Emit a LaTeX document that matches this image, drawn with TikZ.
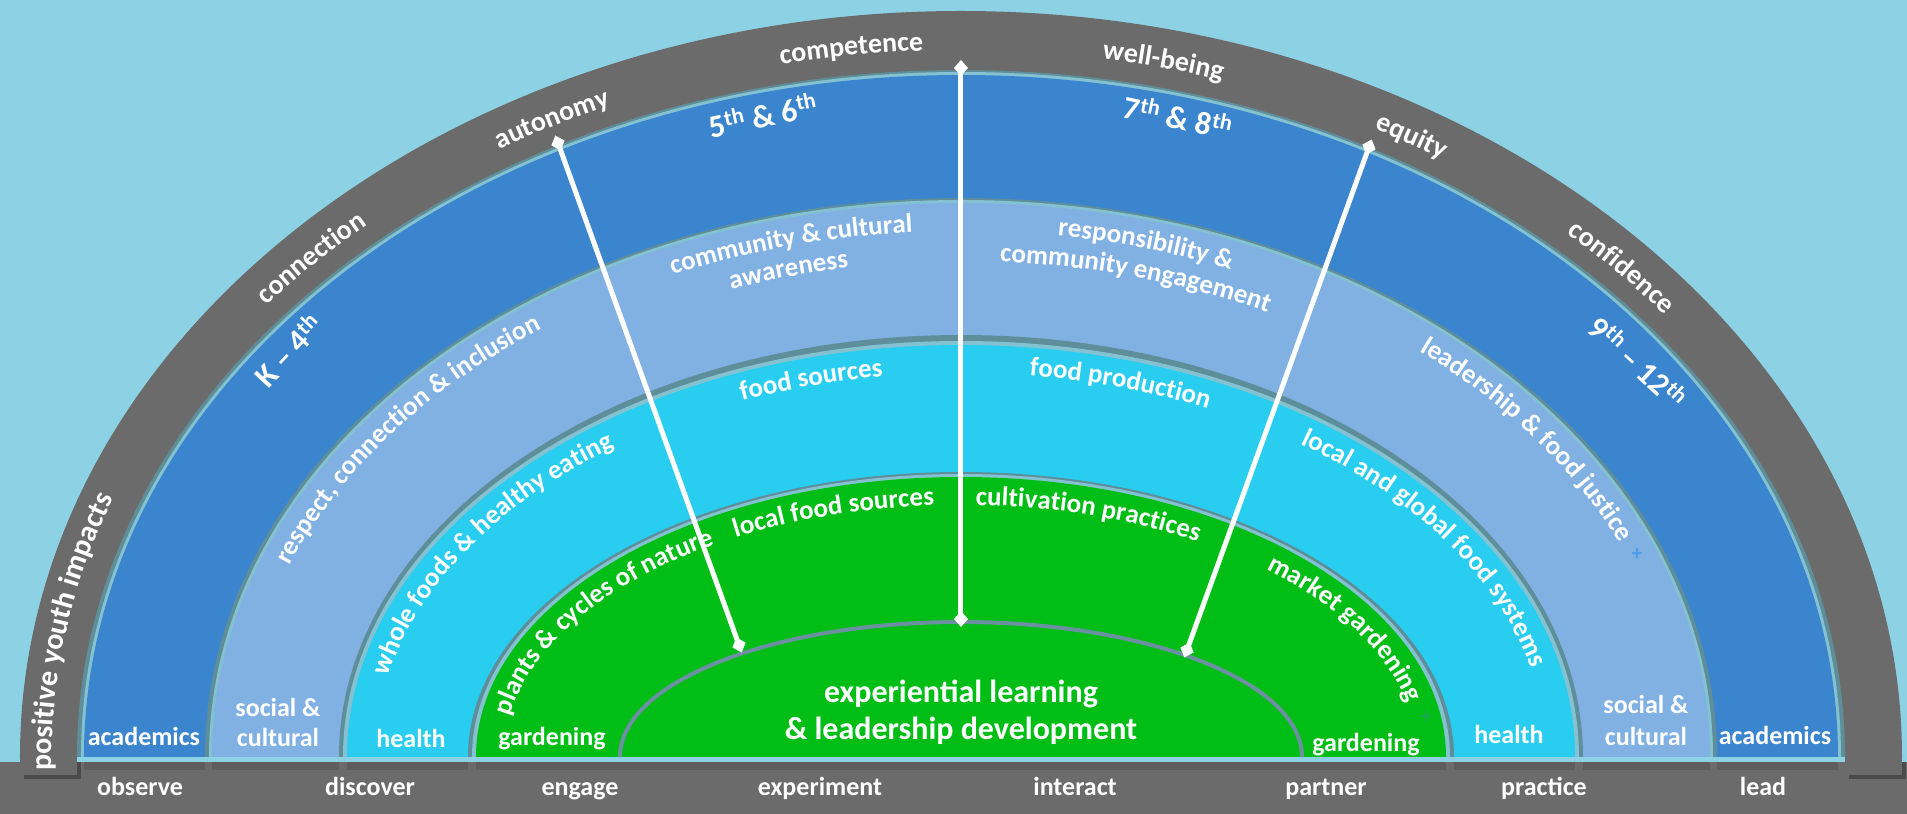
\documentclass[tikz,border=0pt]{standalone}
\usepackage{fontspec}
\setmainfont{Carlito}
\usetikzlibrary{decorations.text,arrows.meta}

\definecolor{bgc}{HTML}{8DD2E4}
\definecolor{archgray}{HTML}{6B6B6B}
\definecolor{barc}{HTML}{6B6B6B}
\definecolor{dblue}{HTML}{3B84CE}
\definecolor{lblue}{HTML}{81B0E2}
\definecolor{cyanr}{HTML}{29CDF0}
\definecolor{greenr}{HTML}{00BE16}
\definecolor{gapdark}{HTML}{5E8E9A}
\definecolor{gaplight}{HTML}{84C2D2}
\definecolor{domeline}{HTML}{6B90A0}
\definecolor{plusblue}{HTML}{4E9CEB}
\definecolor{plusgreen}{HTML}{1BA650}

\newcommand{\ringfont}{\fontsize{27}{30}\selectfont\bfseries}
\newcommand{\grayfont}{\fontsize{28}{32}\selectfont\bfseries}
\newcommand{\pyifont}{\fontsize{30}{34}\selectfont\bfseries}
\newcommand{\labfont}{\fontsize{26}{30}\selectfont\bfseries}
\newcommand{\gradefont}{\fontsize{32}{36}\selectfont\bfseries}
\newcommand{\bigfont}{\fontsize{32}{37}\selectfont\bfseries}
\newcommand{\halfell}[3]{\fill[#1] (-#2,0) arc[start angle=180,end angle=0,x radius=#2pt,y radius=#3pt] -- cycle;}

\tikzset{
  arctext/.style={decorate, decoration={text along path, text align=center, text={#1}}},
  conn/.style={draw=white, line width=5pt, {Diamond[length=16pt,width=14pt]}-{Diamond[length=16pt,width=14pt]}, shorten <=-8pt, shorten >=-8pt},
  blabel/.style={text=white, font=\labfont, anchor=base, inner sep=0pt},
  grade/.style={text=white, font=\gradefont, inner sep=0pt},
  bigl/.style={text=white, font=\bigfont, anchor=base, inner sep=0pt},
  plusm/.style={font=\fontsize{22}{24}\selectfont\bfseries, inner sep=0pt},
}

\begin{document}
\begin{tikzpicture}[x=1pt,y=1pt]
\useasboundingbox (-961,-57) rectangle (946,757);
\fill[bgc] (-961,-57) rectangle (946,757);
% bottom bar
\fill[barc] (-961,-57) rectangle (946,-5);
\foreach \a/\b in {-877/-756,-749/-622,-614/-493,-485/485,493/614,622/749,756/877}
  \fill[black,opacity=0.12] (\a,-5) rectangle (\b,-13);
% gray arch legs shadow
\fill[black,opacity=0.3] (-937,-5) rectangle (-880,-22);
\fill[black,opacity=0.3] (888,-5) rectangle (945,-22);
% gray arch
\halfell{archgray}{941}{746}
\fill[archgray] (-941,0) rectangle (-884,-18);
\fill[archgray] (884,0) rectangle (941,-18);
% rings
\halfell{gapdark}{884}{687}
\halfell{gaplight}{880}{685}
\halfell{dblue}{877}{682}
\halfell{gapdark}{756}{559}
\halfell{gaplight}{752}{557}
\halfell{lblue}{749}{554}
\halfell{gapdark}{622}{422}
\halfell{gaplight}{618}{416}
\halfell{cyanr}{614}{412}
\halfell{gapdark}{493}{285}
\halfell{gaplight}{489}{283}
\halfell{greenr}{485}{280}
% dome
\fill[greenr] (-341,0) arc[start angle=180,end angle=0,x radius=341pt,y radius=135pt] -- cycle;
\draw[domeline,line width=4pt] (-341,0) arc[start angle=180,end angle=0,x radius=341pt,y radius=135pt];

% connectors
\coordinate (l1) at (-403,614);
\coordinate (l2) at (-222,112);
\coordinate (c1) at (0,689);
\coordinate (c2) at (0,138);
\coordinate (r1) at (408,610);
\coordinate (r2) at (226,107);
\draw[conn] (l1) -- (l2);
\draw[conn] (c1) -- (c2);
\draw[conn] (r1) -- (r2);

% gray band labels
\path[arctext={|\grayfont\color{white}|connection}] (148:902pt and 707pt) arc[start angle=148,end angle=124,x radius=902pt,y radius=707pt];
\path[arctext={|\grayfont\color{white}|autonomy}] (129:902pt and 707pt) arc[start angle=129,end angle=105,x radius=902pt,y radius=707pt];
\path[arctext={|\grayfont\color{white}|competence}] (109:902pt and 707pt) arc[start angle=109,end angle=85,x radius=902pt,y radius=707pt];
\path[arctext={|\grayfont\color{white}|well-being}] (89:902pt and 707pt) arc[start angle=89,end angle=65,x radius=902pt,y radius=707pt];
\path[arctext={|\grayfont\color{white}|equity}] (72:902pt and 707pt) arc[start angle=72,end angle=48,x radius=902pt,y radius=707pt];
\path[arctext={|\grayfont\color{white}|confidence}] (55:902pt and 707pt) arc[start angle=55,end angle=31,x radius=902pt,y radius=707pt];
\path[decorate, decoration={text along path, text align=left, text={|\pyifont\color{white}|positive youth impacts}}] (-909,-14) -- (-909,0) arc[start angle=180,end angle=140,x radius=909pt,y radius=714pt];

% grade labels
\node[grade,rotate=47] (g1) at (-673,407) {K – 4\textsuperscript{th}};
\node[grade,rotate=12] (g2) at (-198,642) {5\textsuperscript{th} \& 6\textsuperscript{th}};
\node[grade,rotate=-12] (g3) at (217,640) {7\textsuperscript{th} \& 8\textsuperscript{th}};
\node[grade,rotate=-43] (g4) at (677,395) {9\textsuperscript{th} – 12\textsuperscript{th}};

% light blue ring labels
\path[arctext={|\ringfont\color{white}|respect, connection {\&} inclusion}] (168:721pt and 526pt) arc[start angle=168,end angle=118,x radius=721pt,y radius=526pt];
\path[arctext={|\ringfont\color{white}|community {\&} cultural}] (124:721pt and 526pt) arc[start angle=124,end angle=84,x radius=721pt,y radius=526pt];
\path[arctext={|\ringfont\color{white}|awareness}] (119.6:691pt and 496pt) arc[start angle=119.6,end angle=89.6,x radius=691pt,y radius=496pt];
\path[arctext={|\ringfont\color{white}|responsibility {\&}}] (94.8:721pt and 526pt) arc[start angle=94.8,end angle=54.8,x radius=721pt,y radius=526pt];
\path[arctext={|\ringfont\color{white}|community engagement}] (99.7:691pt and 496pt) arc[start angle=99.7,end angle=49.7,x radius=691pt,y radius=496pt];
\path[arctext={|\ringfont\color{white}|leadership {\&} food justice}] (58:721pt and 526pt) arc[start angle=58,end angle=15,x radius=721pt,y radius=526pt];

% cyan ring labels
\path[arctext={|\ringfont\color{white}|whole foods {\&} healthy eating}] (175:586pt and 384pt) arc[start angle=175,end angle=121,x radius=586pt,y radius=384pt];
\path[arctext={|\ringfont\color{white}|food sources}] (120:586pt and 384pt) arc[start angle=120,end angle=90,x radius=586pt,y radius=384pt];
\path[arctext={|\ringfont\color{white}|food production}] (89:586pt and 384pt) arc[start angle=89,end angle=59,x radius=586pt,y radius=384pt];
\path[arctext={|\ringfont\color{white}|local and global food systems}] (60:586pt and 384pt) arc[start angle=60,end angle=6,x radius=586pt,y radius=384pt];

% green ring labels
\path[arctext={|\ringfont\color{white}|plants {\&} cycles of nature}] (180:457pt and 252pt) arc[start angle=180,end angle=117,x radius=457pt,y radius=252pt];
\path[arctext={|\ringfont\color{white}|local food sources}] (129:457pt and 252pt) arc[start angle=129,end angle=85,x radius=457pt,y radius=252pt];
\path[arctext={|\ringfont\color{white}|cultivation practices}] (95:457pt and 252pt) arc[start angle=95,end angle=51,x radius=457pt,y radius=252pt];
\path[arctext={|\ringfont\color{white}|market gardening}] (53:457pt and 252pt) arc[start angle=53,end angle=5,x radius=457pt,y radius=252pt];

% plus marks
\node[plusm,text=plusblue] (p1) at (676,203) {+};
\node[plusm,text=plusgreen] (p2) at (465,40) {+};

% centre text
\node[bigl] (e1) at (0,54) {experiential learning};
\node[bigl] (e2) at (0,17) {\& leadership development};

% bottom ring labels
\node[blabel] (a1) at (-817,11) {academics};
\node[blabel] (s1) at (-683,40) {social \&};
\node[blabel] (s2) at (-683,10) {cultural};
\node[blabel] (h1) at (-550,9) {health};
\node[blabel] (gd1) at (-409,11) {gardening};
\node[blabel] (gd2) at (405,5) {gardening};
\node[blabel] (h2) at (548,13) {health};
\node[blabel] (s3) at (685,43) {social \&};
\node[blabel] (s4) at (685,11) {cultural};
\node[blabel] (a2) at (814,12) {academics};

% bar labels
\node[blabel] (b1) at (-821,-39) {observe};
\node[blabel] (b2) at (-591,-39) {discover};
\node[blabel] (b3) at (-381,-39) {engage};
\node[blabel] (b4) at (-141,-39) {experiment};
\node[blabel] (b5) at (114,-39) {interact};
\node[blabel] (b6) at (365,-39) {partner};
\node[blabel] (b7) at (583,-39) {practice};
\node[blabel] (b8) at (802,-39) {lead};
\end{tikzpicture}
\end{document}
